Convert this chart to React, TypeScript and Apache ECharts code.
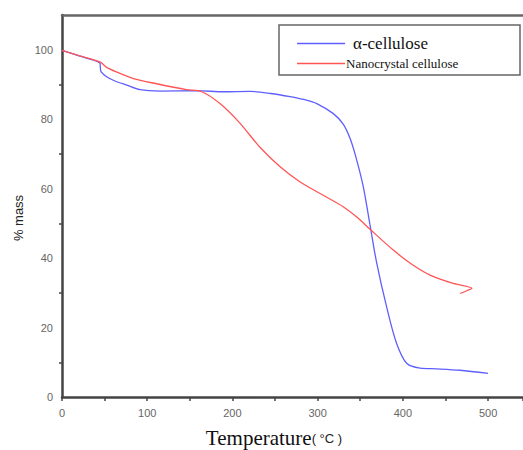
import React, { useEffect, useRef } from "react";
import * as echarts from "echarts";

const alphaT = [0, 20, 44.6, 45, 46, 52.4, 62, 76, 91.5, 115, 158, 190, 220.7, 245, 267.6, 285, 299, 318.4, 330, 338, 345, 353.6, 361.5, 369, 380.9, 392.6, 404.5, 420.2, 440, 467, 500];
const alphaM = [99.8, 98.2, 96.1, 94.8, 93.6, 92.2, 91.0, 89.8, 88.5, 88.1, 88.2, 87.9, 88.0, 87.4, 86.5, 85.6, 84.5, 81.6, 78.6, 74.5, 69.0, 60.5, 49.5, 39.0, 26, 15.5, 9.7, 8.3, 8.1, 7.7, 6.8];
const nanoT = [0, 20, 44.6, 52, 64, 83.7, 111, 146, 164, 185.4, 209, 232, 256, 279, 302.8, 330, 346, 361.5, 388.8, 410, 432, 459, 481, 475, 467];
const nanoM = [99.8, 98.3, 96.5, 95.0, 93.6, 91.7, 90.2, 88.5, 87.9, 84.5, 78.8, 72, 66.3, 62.0, 58.6, 54.8, 51.8, 48.3, 42.3, 38.3, 35.1, 32.7, 31.3, 30.6, 29.8];

const seriesNames = ["α-cellulose", "Nanocrystal cellulose"];
const xTicks = [0, 100, 200, 300, 400, 500];
const yTicks = [0, 20, 40, 60, 80, 100];

export default function App() {
  const ref = useRef<HTMLDivElement>(null);
  useEffect(() => {
    const chart = echarts.init(ref.current!, null, { renderer: "svg" });
    const labelStyle = { color: "#666", fontFamily: "Liberation Sans", fontSize: 11 };
    const axisLine = { show: true, onZero: false, lineStyle: { color: "#444", width: 2.5 } };
    chart.setOption({
      animation: false,
      backgroundColor: "#fff",
      grid: { left: 62, top: 15, right: 0, bottom: 53 },
      xAxis: [
        {
          type: "value",
          min: 0,
          max: 541,
          interval: 100,
          axisLine,
          axisTick: { show: true, length: 4, lineStyle: { color: "#444", width: 1.5 } },
          minorTick: { show: true, splitNumber: 2, length: 4, lineStyle: { color: "#444", width: 1.5 } },
          splitLine: { show: false },
          axisLabel: { ...labelStyle, margin: 10, showMaxLabel: false, formatter: (v: number) => (xTicks.includes(v) ? String(v) : "") },
        },
        {
          type: "value",
          position: "top",
          min: 0,
          max: 541,
          axisLine: { show: true, onZero: false, lineStyle: { color: "#666", width: 2.5 } },
          axisTick: { show: false },
          axisLabel: { show: false },
          splitLine: { show: false },
        },
      ],
      yAxis: {
        type: "value",
        min: 0,
        max: 110,
        interval: 20,
        axisLine,
        axisTick: { show: false },
        minorTick: { show: true, splitNumber: 2, length: 3, lineStyle: { color: "#444", width: 1.5 } },
        splitLine: { show: false },
        axisLabel: { ...labelStyle, margin: 9, showMaxLabel: false, formatter: (v: number) => (yTicks.includes(v) ? String(v) : "") },
      },
      legend: {
        orient: "vertical",
        left: 292,
        top: 30,
        itemWidth: 48,
        itemHeight: 1.5,
        itemGap: 5,
        icon: "rect",
        data: [
          { name: seriesNames[0], textStyle: { fontFamily: "Liberation Serif", fontSize: 17, color: "#111", padding: [0, 0, 0, 3] } },
          { name: seriesNames[1], textStyle: { fontFamily: "Liberation Serif", fontSize: 13, color: "#111", padding: [0, 0, 0, -4] } },
        ],
      },
      series: [
        {
          name: seriesNames[0],
          type: "line",
          data: alphaT.map((t, i) => [t, alphaM[i]]),
          showSymbol: false,
          smooth: 0.3,
          color: "#5f5fff",
          lineStyle: { width: 1.3, color: "#5f5fff" },
        },
        {
          name: seriesNames[1],
          type: "line",
          data: nanoT.map((t, i) => [t, nanoM[i]]),
          showSymbol: false,
          smooth: 0.3,
          color: "#ff5555",
          lineStyle: { width: 1.3, color: "#ff5555" },
        },
      ],
      graphic: [
        { type: "rect", shape: { x: 279, y: 25, width: 241, height: 50 }, style: { fill: "none", stroke: "#666", lineWidth: 1.5 } },
        {
          type: "text",
          x: 18,
          y: 218,
          rotation: Math.PI / 2,
          style: { text: "% mass", fontFamily: "Liberation Sans", fontSize: 13, fill: "#222", align: "center", verticalAlign: "middle" },
        },
        {
          type: "text",
          x: 274,
          y: 438,
          style: {
            text: "{a|Temperature}{b|( °C )}",
            align: "center",
            verticalAlign: "middle",
            rich: {
              a: { fontFamily: "Liberation Serif", fontSize: 21, fill: "#111" },
              b: { fontFamily: "Liberation Sans", fontSize: 13, fill: "#222" },
            },
          },
        },
      ],
    });
    return () => chart.dispose();
  }, []);
  return <div ref={ref} style={{ position: "fixed", left: 0, top: 0, width: 523, height: 450 }} />;
}
